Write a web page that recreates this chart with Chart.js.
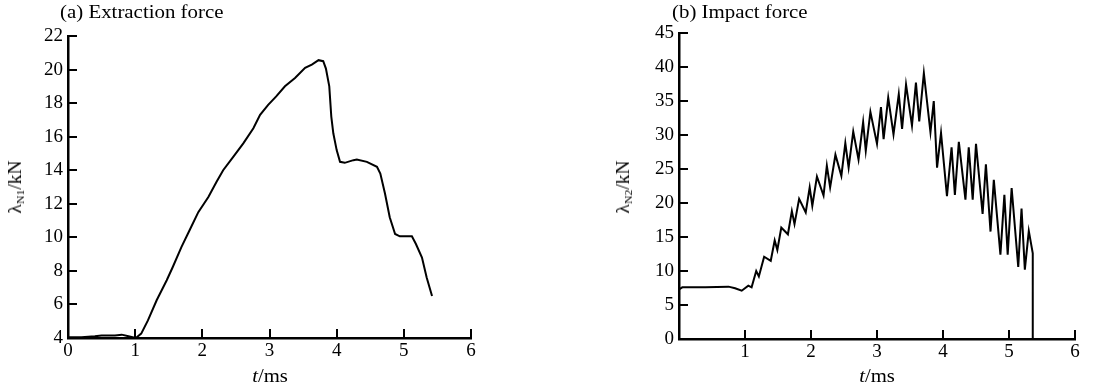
<!DOCTYPE html>
<html>
<head>
<meta charset="utf-8">
<script src="https://cdn.jsdelivr.net/npm/chart.js@4/dist/chart.umd.min.js"></script>
<style>
  html, body { margin: 0; padding: 0; background: #fff; }
  body { width: 1094px; height: 391px; position: relative; overflow: hidden;
         font-family: 'Liberation Serif', 'DejaVu Serif', serif; color: #000; }
  .box { position: absolute; top: 0; height: 391px; }
  .label { position: absolute; white-space: nowrap; font-size: 18px; line-height: 1; }
  .title { transform: scaleX(1.16); transform-origin: left center; }
  .ylab { transform: translate(-50%, -50%) rotate(-90deg) scaleX(1.08); }
  .xlab { transform: translateX(-50%) scaleX(1.15); }
  sub { font-size: 11px; vertical-align: -3px; }
</style>
</head>
<body>
<div class="box" style="left:0;width:547px"><canvas id="extractChart"></canvas></div>
<div class="box" style="left:547px;width:547px"><canvas id="impactChart"></canvas></div>

<div class="label title" style="left:60px;top:3px">(a) Extraction force</div>
<div class="label title" style="left:672px;top:3px">(b) Impact force</div>
<div class="label ylab" style="left:16px;top:187px">λ<sub>N1</sub>/kN</div>
<div class="label ylab" style="left:624px;top:187px">λ<sub>N2</sub>/kN</div>
<div class="label xlab" style="left:270px;top:367px"><i>t</i>/ms</div>
<div class="label xlab" style="left:877px;top:367px"><i>t</i>/ms</div>

<script>
// ===== DATA =====
const extractT = [0, 0.2, 0.4, 0.5, 0.7, 0.8, 0.9, 1.01, 1.09, 1.19, 1.32, 1.47, 1.56, 1.69, 1.81, 1.94,
  2.09, 2.21, 2.31, 2.46, 2.61, 2.76, 2.86, 2.98, 3.1, 3.23, 3.38, 3.53, 3.63, 3.73, 3.8, 3.84,
  3.89, 3.92, 3.95, 4.0, 4.05, 4.12, 4.25, 4.3, 4.45, 4.6, 4.65, 4.72, 4.79, 4.87, 4.94, 5.12,
  5.18, 5.27, 5.34, 5.42];
const extractF = [4.05, 4.05, 4.1, 4.15, 4.15, 4.2, 4.1, 4.0, 4.26, 5.05, 6.25, 7.44, 8.23, 9.43, 10.42, 11.5,
  12.4, 13.3, 14.0, 14.8, 15.6, 16.5, 17.3, 17.9, 18.4, 19.0, 19.5, 20.1, 20.3, 20.56, 20.5, 20.06,
  19.0, 17.2, 16.2, 15.2, 14.5, 14.44, 14.6, 14.64, 14.5, 14.2, 13.8, 12.6, 11.2, 10.2, 10.06, 10.06,
  9.6, 8.8, 7.6, 6.5];

const impactT = [0, 0.05, 0.4, 0.75, 0.85, 0.95, 1.05, 1.1,
  1.17, 1.21, 1.29, 1.39, 1.45, 1.49, 1.55, 1.65, 1.71, 1.75, 1.82, 1.92, 1.98, 2.02,
  2.09, 2.19, 2.24, 2.29, 2.37, 2.46, 2.52, 2.57, 2.64, 2.72, 2.79, 2.83, 2.9, 3.0,
  3.06, 3.1, 3.17, 3.25, 3.33, 3.38, 3.44, 3.53, 3.59, 3.64, 3.71, 3.81, 3.86, 3.91,
  3.97, 4.06, 4.13, 4.18, 4.24, 4.34, 4.39, 4.45, 4.5, 4.6, 4.65, 4.72, 4.77, 4.87,
  4.93, 4.98, 5.04, 5.14, 5.19, 5.24, 5.3, 5.36, 5.36];
const impactF = [7.3, 7.6, 7.6, 7.7, 7.46, 7.1, 7.85, 7.6,
  10.0, 9.2, 12.1, 11.5, 14.5, 13.1, 16.4, 15.4, 18.8, 16.9, 20.6, 18.6, 22.3, 19.6,
  23.9, 21.1, 25.5, 22.3, 27.1, 24.0, 28.8, 25.2, 30.5, 26.4, 31.9, 27.7, 33.4, 28.7,
  34.1, 29.4, 35.5, 30.1, 36.0, 30.9, 37.4, 31.4, 37.7, 32.0, 39.1, 30.4, 35.0, 25.2,
  30.3, 21.0, 28.2, 21.2, 29.0, 20.5, 28.2, 20.5, 28.7, 18.4, 25.7, 15.8, 23.4, 12.4,
  21.2, 12.4, 22.2, 10.6, 19.2, 10.2, 15.9, 12.6, 0];

const timeTicks = [0, 1, 2, 3, 4, 5, 6];
const extractTicks = [4, 6, 8, 10, 12, 14, 16, 18, 20, 22];
const impactTicks = [0, 5, 10, 15, 20, 25, 30, 35, 40, 45];

// ===== HELPERS =====
const FONT = { family: "'Liberation Serif', 'DejaVu Serif', serif", size: 19 };

// inward tick marks, drawn from the library's scales
const inwardTicks = {
  id: 'inwardTicks',
  afterDraw(chart) {
    const { ctx, chartArea: a, scales: { x, y } } = chart;
    ctx.save();
    ctx.strokeStyle = '#000';
    ctx.lineWidth = 2;
    ctx.beginPath();
    x.ticks.forEach(t => {
      const px = Math.round(x.getPixelForValue(t.value));
      ctx.moveTo(px, a.bottom);
      ctx.lineTo(px, a.bottom - 9);
    });
    y.ticks.forEach(t => {
      const py = Math.round(y.getPixelForValue(t.value));
      ctx.moveTo(a.left, py);
      ctx.lineTo(a.left + 9, py);
    });
    ctx.stroke();
    ctx.restore();
  }
};

function makeChart(id, ts, fs, yTicks, opts) {
  const el = document.getElementById(id);
  el.width = 547; el.height = 391;
  return new Chart(el, {
    type: 'line',
    data: {
      datasets: [{
        data: ts.map((t, i) => ({ x: t, y: fs[i] })),
        borderColor: '#000',
        borderWidth: 2,
        pointRadius: 0,
        tension: 0,
        fill: false,
      }]
    },
    options: {
      responsive: false,
      animation: false,
      events: [],
      layout: { padding: opts.padding },
      plugins: { legend: { display: false }, tooltip: { enabled: false } },
      scales: {
        x: {
          type: 'linear', min: 0, max: 6,
          afterBuildTicks: s => { s.ticks = timeTicks.map(v => ({ value: v })); },
          afterFit: s => { s.height = opts.xh; },
          grid: { display: true, drawOnChartArea: false, drawTicks: false },
          border: { display: true, color: '#000', width: 2.5 },
          ticks: {
            color: '#000', font: FONT, padding: 2, maxRotation: 0,
            callback: v => (opts.hideZero && v === 0) ? '' : String(v)
          }
        },
        y: {
          type: 'linear', min: yTicks[0], max: yTicks[yTicks.length - 1],
          afterBuildTicks: s => { s.ticks = yTicks.map(v => ({ value: v })); },
          afterFit: s => { s.width = opts.yw; },
          grid: { display: true, drawOnChartArea: false, drawTicks: false },
          border: { display: true, color: '#000', width: 2.5 },
          ticks: { color: '#000', font: FONT, padding: 5 }
        }
      }
    },
    plugins: [inwardTicks]
  });
}

makeChart('extractChart', extractT, extractF, extractTicks,
  { padding: { left: 0, right: 76, top: 36, bottom: 0 }, yw: 68, xh: 53, hideZero: false });
makeChart('impactChart', impactT, impactF, impactTicks,
  { padding: { left: 0, right: 19, top: 33, bottom: 0 }, yw: 132, xh: 52, hideZero: true });
</script>
</body>
</html>
